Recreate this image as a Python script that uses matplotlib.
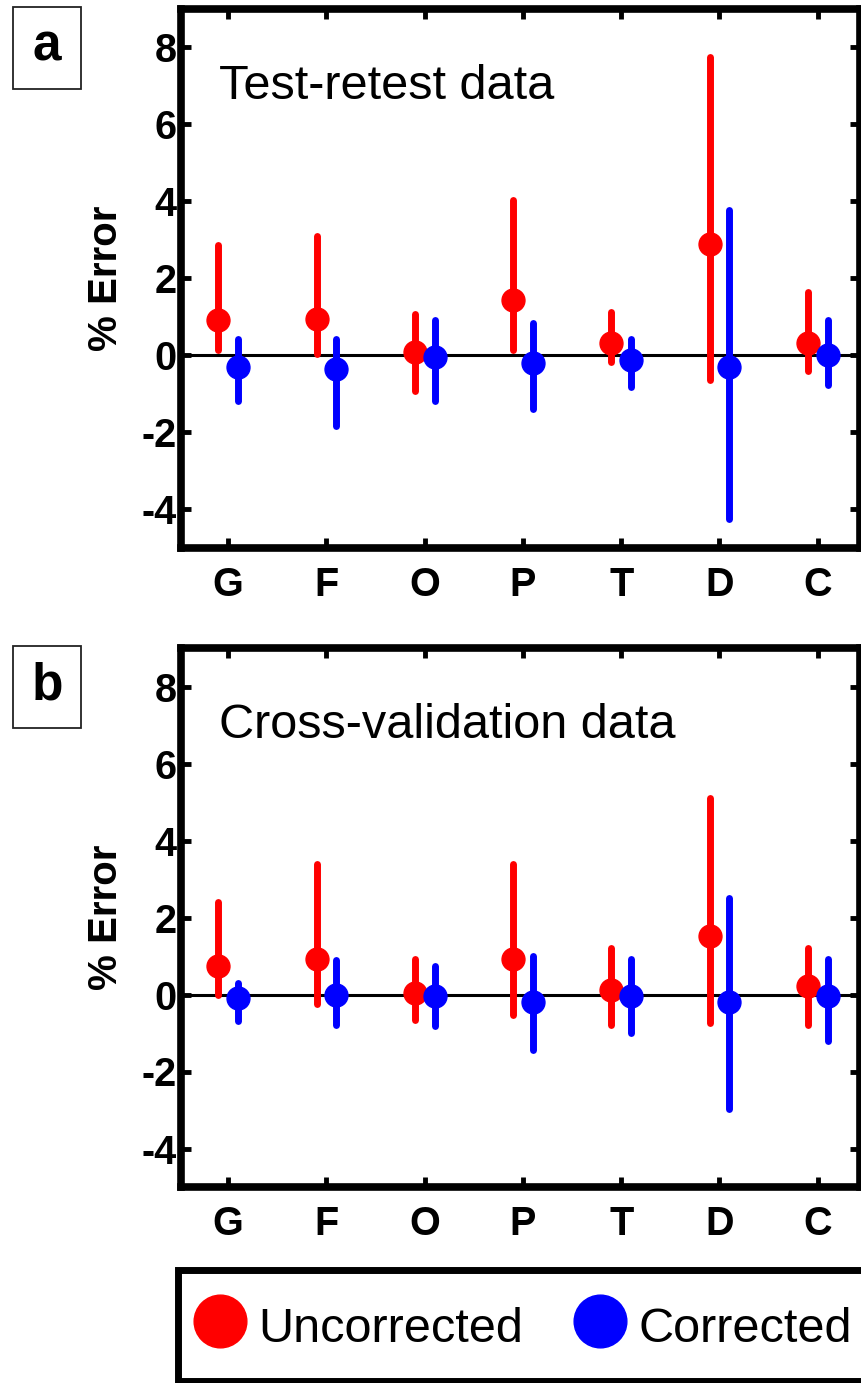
import numpy as np
import matplotlib
matplotlib.use('Agg')
import matplotlib.pyplot as plt
from matplotlib.patches import Rectangle

plt.rcParams['font.family'] = ['Liberation Sans', 'DejaVu Sans']
plt.rcParams['axes.unicode_minus'] = False

# Data
cats = ['G', 'F', 'O', 'P', 'T', 'D', 'C']

# panel a: test-retest
a_unc = [0.93, 0.95, 0.08, 1.43, 0.33, 2.89, 0.33]
a_unc_lo = [0.13, 0.05, -0.91, 0.15, -0.18, -0.64, -0.41]
a_unc_hi = [2.86, 3.10, 1.09, 4.05, 1.14, 7.75, 1.66]
a_cor = [-0.29, -0.35, -0.05, -0.20, -0.12, -0.30, 0.00]
a_cor_lo = [-1.17, -1.84, -1.17, -1.38, -0.81, -4.25, -0.77]
a_cor_hi = [0.44, 0.44, 0.91, 0.84, 0.44, 3.77, 0.92]

# panel b: cross-validation
b_unc = [0.74, 0.91, 0.03, 0.93, 0.12, 1.51, 0.21]
b_unc_lo = [0.00, -0.25, -0.67, -0.53, -0.80, -0.73, -0.80]
b_unc_hi = [2.39, 3.38, 0.93, 3.38, 1.21, 5.10, 1.21]
b_cor = [-0.09, 0.00, -0.05, -0.20, -0.04, -0.20, -0.04]
b_cor_lo = [-0.70, -0.79, -0.81, -1.43, -0.99, -2.98, -1.22]
b_cor_hi = [0.31, 0.89, 0.75, 1.00, 0.91, 2.50, 0.93]

W, H = 862, 1383
fig = plt.figure(figsize=(W / 100, H / 100), dpi=100)

x = np.arange(1, len(cats) + 1)
off = 0.1


def series(ax, xs, val, lo, hi, color, label):
    val = np.array(val)
    yerr = [val - np.array(lo), np.array(hi) - val]
    eb = ax.errorbar(xs, val, yerr=yerr, fmt='none', ecolor=color,
                     elinewidth=5, capsize=0, zorder=3)
    eb[2][0].set_capstyle('round')
    h, = ax.plot(xs, val, 'o', color=color, markersize=16.5, zorder=4,
                 label=label)
    return h


def panel(top_px, title, letter, data):
    bottom_px = top_px + 539
    ax = fig.add_axes([181 / W, 1 - bottom_px / H, 679 / W, 539 / H])
    ax.axhline(0, color='k', lw=2.2, zorder=2)
    unc, unc_lo, unc_hi, cor, cor_lo, cor_hi = data
    h1 = series(ax, x - off, unc, unc_lo, unc_hi, 'red', 'Uncorrected')
    h2 = series(ax, x + off, cor, cor_lo, cor_hi, 'blue', 'Corrected')
    ax.set_xlim(0.52, 7.43)
    ax.set_ylim(-5, 9)
    ax.set_yticks(np.arange(-4, 9, 2))
    ax.set_xticks(x)
    ax.set_xticklabels(cats)
    ax.tick_params(direction='in', length=7, width=3.5, top=True, right=True,
                   labelsize=28.5, pad=3)
    ax.tick_params(axis='x', pad=13)
    for lab in ax.get_xticklabels() + ax.get_yticklabels():
        lab.set_fontweight('bold')
    for sp in ax.spines.values():
        sp.set_linewidth(5.5)
    ax.set_ylabel('% Error', fontsize=29, fontweight='bold', labelpad=12)
    ax.text(0.056, 0.833, title, transform=ax.transAxes, fontsize=35,
            va='baseline', ha='left')
    # panel letter box
    fig.patches.append(Rectangle((13 / W, 1 - (top_px + 80) / H), 68 / W, 82 / H,
                                 transform=fig.transFigure, fill=False,
                                 edgecolor='#222222', lw=1.3))
    fig.text(47 / W, 1 - (top_px + 38) / H, letter, fontsize=37,
             fontweight='bold', ha='center', va='center')
    return h1, h2


h1, h2 = panel(9, 'Test-retest data', 'a',
               (a_unc, a_unc_lo, a_unc_hi, a_cor, a_cor_lo, a_cor_hi))
panel(648, 'Cross-validation data', 'b',
      (b_unc, b_unc_lo, b_unc_hi, b_cor, b_cor_lo, b_cor_hi))

leg = fig.legend([h1, h2], ['Uncorrected', 'Corrected'], loc='upper left',
                 bbox_to_anchor=(178 / W, 1 - 1270 / H), ncol=2, fontsize=35,
                 markerscale=2.3, frameon=True, fancybox=False, framealpha=1,
                 edgecolor='k', borderpad=0.6, handlelength=0.53,
                 handletextpad=0.53, columnspacing=1.3, borderaxespad=0,
                 handleheight=1.3)
leg.get_frame().set_linewidth(5)

fig.savefig('out.png', dpi=100)
